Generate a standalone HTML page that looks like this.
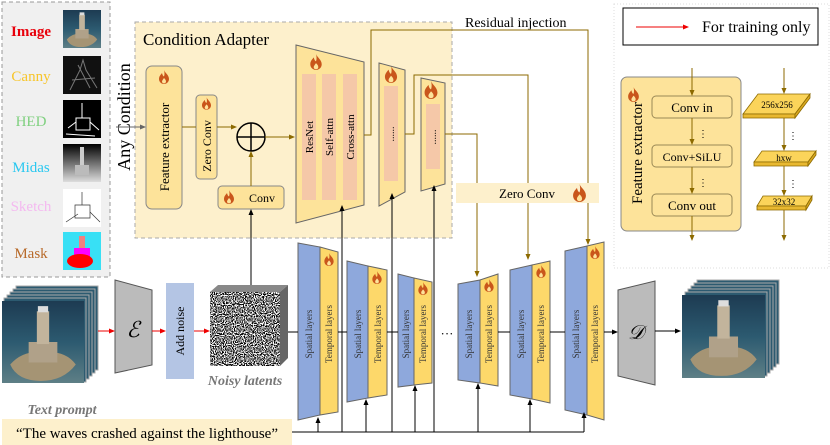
<!DOCTYPE html>
<html><head><meta charset="utf-8"><style>
html,body{margin:0;padding:0;background:#fff}
svg{display:block}
text{font-family:"Liberation Serif",serif}
</style></head><body>
<svg width="830" height="445" viewBox="0 0 830 445" xmlns="http://www.w3.org/2000/svg">
<defs>
<symbol id="fl" viewBox="0 0 10 14"><path d="M5,0 C6,3 10,5 10,9 C10,12 7.5,14 5,14 C2.5,14 0,12 0,9 C0,6 2,4.5 3,3 C3.5,5 4,6 5,6.5 C5.8,4.5 5.5,2 5,0Z" fill="#c9561b"/><path d="M5,8 C6,9 7,10 7,11.5 C7,12.8 6,13.4 5,13.4 C4,13.4 3,12.8 3,11.5 C3,10.5 4,9.5 5,8Z" fill="#fde39a"/></symbol>
<marker id="ab" markerWidth="6" markerHeight="6" refX="5" refY="3" orient="auto"><path d="M0,0.5 L6,3 L0,5.5Z" fill="#000"/></marker>
<marker id="ao" markerWidth="6" markerHeight="6" refX="5" refY="3" orient="auto"><path d="M0,0.5 L6,3 L0,5.5Z" fill="#8c6a00"/></marker>
<marker id="ag" markerWidth="6" markerHeight="6" refX="5" refY="3" orient="auto"><path d="M0,0.5 L6,3 L0,5.5Z" fill="#666"/></marker>
<marker id="ar" markerWidth="6" markerHeight="6" refX="5" refY="3" orient="auto"><path d="M0,0.5 L6,3 L0,5.5Z" fill="#e00"/></marker>
<linearGradient id="sea" x1="0" y1="0" x2="0" y2="1"><stop offset="0" stop-color="#1d3b52"/><stop offset="0.5" stop-color="#2c5a70"/><stop offset="1" stop-color="#5e7f86"/></linearGradient>
<linearGradient id="mid" x1="0" y1="0" x2="0" y2="1"><stop offset="0" stop-color="#000"/><stop offset="1" stop-color="#ddd"/></linearGradient>
<filter id="nz" x="0" y="0" width="100%" height="100%"><feTurbulence type="fractalNoise" baseFrequency="0.9" numOctaves="1" seed="3"/><feColorMatrix type="matrix" values="0 0 0 0 0  0 0 0 0 0  0 0 0 0 0  0 0 0 -9 5"/><feComposite operator="in" in2="SourceGraphic"/></filter>
<symbol id="lh" viewBox="0 0 80 80"><rect width="80" height="80" fill="url(#sea)"/><path d="M8,62 Q20,48 40,50 Q62,48 72,62 Q60,78 38,78 Q15,78 8,62Z" fill="#a59474"/><rect x="26" y="40" width="28" height="20" fill="#b0a189"/><rect x="34" y="10" width="12" height="32" fill="#c2b49c"/><rect x="35" y="5" width="10" height="6" fill="#ddd"/></symbol>
</defs>

<!-- Left condition panel -->
<rect x="2" y="2" width="108" height="275" fill="#f0f0f0" stroke="#999" stroke-dasharray="4,3"/>
<g font-size="15" text-anchor="middle">
<text x="31" y="36" fill="#e8000b" font-weight="bold">Image</text>
<text x="31" y="81" fill="#f7c52a">Canny</text>
<text x="31" y="126" fill="#7fd07f">HED</text>
<text x="31" y="172" fill="#2ac8f0">Midas</text>
<text x="31" y="211" fill="#f4b9f0">Sketch</text>
<text x="31" y="258" fill="#b86a2a">Mask</text>
</g>
<use href="#lh" x="63" y="10" width="38" height="38"/>
<rect x="63" y="56" width="38" height="38" fill="#111"/><path d="M70,90 L80,70 L83,60 L86,70 L97,88 M72,80 L95,78 M78,65 L90,88" stroke="#777" stroke-width="1" fill="none"/>
<rect x="63" y="100" width="38" height="38" fill="#000"/><path d="M82,103 L82,118 M76,118 L90,118 L90,130 L76,130 Z M68,128 L76,122 M90,122 L99,130 M66,134 L95,136" stroke="#fff" stroke-width="1" fill="none"/>
<rect x="63" y="144" width="38" height="38" fill="url(#mid)"/><rect x="80" y="147" width="4" height="20" fill="#ccc"/><rect x="75" y="165" width="14" height="10" fill="#bbb"/>
<rect x="63" y="189" width="38" height="38" fill="#fff"/><path d="M82,192 L82,205 M75,205 L90,205 L90,218 L75,218 Z M66,222 L78,214 M90,212 L100,222" stroke="#333" stroke-width="0.7" fill="none"/>
<rect x="63" y="232" width="38" height="38" fill="#38e0f5"/><rect x="79" y="236" width="6" height="14" fill="#f08080"/><rect x="74" y="248" width="16" height="9" fill="#f0f"/><ellipse cx="80" cy="261" rx="13" ry="7" fill="#f00"/>

<!-- Condition Adapter -->
<rect x="135" y="22" width="317" height="216" fill="#fdf0cc" stroke="#aaa" stroke-dasharray="4,3"/>
<text x="143" y="45" font-size="17">Condition Adapter</text>
<text transform="translate(130,117) rotate(-90)" font-size="18" text-anchor="middle">Any Condition</text>
<line x1="116" y1="127" x2="145" y2="127" stroke="#666" marker-end="url(#ag)"/>
<rect x="146" y="66" width="36" height="143" rx="6" fill="#fde39a" stroke="#888"/>
<use href="#fl" x="159" y="70" width="10" height="14"/>
<text transform="translate(169,147) rotate(-90)" font-size="13" text-anchor="middle">Feature extractor</text>
<rect x="196" y="95" width="21" height="84" rx="4" fill="#fde39a" stroke="#888"/>
<use href="#fl" x="202" y="97" width="9" height="13"/>
<text transform="translate(211,146) rotate(-90)" font-size="12" text-anchor="middle">Zero Conv</text>
<line x1="182" y1="127" x2="196" y2="127" stroke="#8c6a00"/>
<line x1="217" y1="127" x2="236" y2="127" stroke="#8c6a00" marker-end="url(#ao)"/>
<circle cx="251" cy="137" r="14" fill="none" stroke="#000" stroke-width="1.5"/>
<path d="M237,137 H265 M251,123 V151" stroke="#000" stroke-width="1.5"/>
<rect x="218" y="186" width="66" height="23" rx="4" fill="#fde39a" stroke="#888"/>
<use href="#fl" x="224" y="190" width="10" height="14"/>
<text x="262" y="202" font-size="12" text-anchor="middle">Conv</text>
<line x1="251" y1="186" x2="251" y2="152" stroke="#8c6a00" marker-end="url(#ao)"/>
<line x1="265" y1="137" x2="294" y2="137" stroke="#8c6a00" marker-end="url(#ao)"/>

<polygon points="296,45 364,62 364,205 296,223" fill="#fde39a" stroke="#666"/>
<use href="#fl" x="310" y="54" width="12" height="16"/>
<rect x="302" y="74" width="14" height="126" fill="#f5c8a8"/><rect x="322" y="74" width="14" height="126" fill="#f5c8a8"/><rect x="343" y="74" width="14" height="126" fill="#f5c8a8"/>
<g font-size="11" text-anchor="middle">
<text transform="translate(313,137) rotate(-90)">ResNet</text>
<text transform="translate(333,137) rotate(-90)">Self-attn</text>
<text transform="translate(354,137) rotate(-90)">Cross-attn</text>
</g>
<polygon points="379,63 405,70 405,192 379,206" fill="#fde39a" stroke="#666"/>
<use href="#fl" x="384" y="66" width="14" height="17"/>
<rect x="384" y="86" width="14" height="95" fill="#f5c8a8"/>
<text transform="translate(394,134) rotate(-90)" font-size="10" text-anchor="middle">......</text>
<polygon points="421,78 445,83 445,184 421,191" fill="#fde39a" stroke="#666"/>
<use href="#fl" x="424" y="81" width="14" height="18"/>
<rect x="426" y="104" width="14" height="65" fill="#f5c8a8"/>
<text transform="translate(436,137) rotate(-90)" font-size="10" text-anchor="middle">......</text>

<!-- Residual lines -->
<text x="465" y="27" font-size="14">Residual injection</text>
<g stroke="#8c6a00" fill="none">
<polyline points="364,135 371,135 371,30 588,30 588,244" marker-end="url(#ao)"/>
<polyline points="405,134 414,134 414,75 528,75 528,259" marker-end="url(#ao)"/>
<polyline points="445,134 477,134 477,276" marker-end="url(#ao)"/>
</g>
<rect x="456" y="183" width="143" height="20" fill="#fdf0cc"/>
<text x="527" y="198" font-size="13" text-anchor="middle">Zero Conv</text>
<use href="#fl" x="573" y="184" width="13" height="18"/>

<!-- Black up-lines -->
<g stroke="#000" fill="none">
<line x1="251" y1="285" x2="251" y2="210" marker-end="url(#ab)"/>
<line x1="342" y1="432" x2="342" y2="206" marker-end="url(#ab)"/>
<line x1="392" y1="432" x2="392" y2="194" marker-end="url(#ab)"/>
<line x1="434" y1="432" x2="434" y2="186" marker-end="url(#ab)"/>
</g>

<!-- U-Net blocks -->
<g stroke="#666">
<polygon points="298,243 320,247 320,415 298,420" fill="#8ea8dc"/><polygon points="320,247 338,252 338,412 320,415" fill="#fdd86a"/>
<polygon points="347,261 368,266 368,398 347,402" fill="#8ea8dc"/><polygon points="368,266 387,270 387,395 368,398" fill="#fdd86a"/>
<polygon points="398,274 414,278 414,385 398,387" fill="#8ea8dc"/><polygon points="414,278 432,282 432,383 414,385" fill="#fdd86a"/>
<polygon points="458,284 480,280 480,383 458,380" fill="#8ea8dc"/><polygon points="480,280 498,274 498,386 480,383" fill="#fdd86a"/>
<polygon points="510,270 532,265 532,399 510,395" fill="#8ea8dc"/><polygon points="532,265 550,261 550,403 532,399" fill="#fdd86a"/>
<polygon points="565,251 587,246 587,415 565,410" fill="#8ea8dc"/><polygon points="587,246 604,242 604,420 587,415" fill="#fdd86a"/>
</g>
<use href="#fl" x="324" y="253" width="10" height="13"/>
<use href="#fl" x="372" y="271" width="10" height="13"/>
<use href="#fl" x="418" y="282" width="10" height="13"/>
<use href="#fl" x="484" y="279" width="10" height="13"/>
<use href="#fl" x="536" y="265" width="10" height="13"/>
<use href="#fl" x="590" y="246" width="10" height="13"/>
<g font-size="9" text-anchor="middle" fill="#333">
<text transform="translate(312,334) rotate(-90)">Spatial layers</text><text transform="translate(332,334) rotate(-90)">Temporal layers</text>
<text transform="translate(361,334) rotate(-90)">Spatial layers</text><text transform="translate(381,334) rotate(-90)">Temporal layers</text>
<text transform="translate(409,334) rotate(-90)">Spatial layers</text><text transform="translate(426,334) rotate(-90)">Temporal layers</text>
<text transform="translate(472,334) rotate(-90)">Spatial layers</text><text transform="translate(492,334) rotate(-90)">Temporal layers</text>
<text transform="translate(524,334) rotate(-90)">Spatial layers</text><text transform="translate(544,334) rotate(-90)">Temporal layers</text>
<text transform="translate(579,334) rotate(-90)">Spatial layers</text><text transform="translate(598,334) rotate(-90)">Temporal layers</text>
</g>
<text x="447" y="338" font-size="13" text-anchor="middle">···</text>
<g stroke="#000" fill="none">
<line x1="288" y1="332" x2="298" y2="332"/><line x1="338" y1="332" x2="347" y2="332"/><line x1="387" y1="332" x2="398" y2="332"/>
<line x1="498" y1="332" x2="510" y2="332"/><line x1="550" y1="332" x2="565" y2="332"/>
<line x1="604" y1="332" x2="617" y2="332" marker-end="url(#ab)"/>
<line x1="292" y1="432" x2="584" y2="432"/>
<line x1="318" y1="432" x2="318" y2="418" marker-end="url(#ab)"/>
<line x1="366" y1="432" x2="366" y2="400" marker-end="url(#ab)"/>
<line x1="415" y1="432" x2="415" y2="386" marker-end="url(#ab)"/>
<line x1="478" y1="432" x2="478" y2="384" marker-end="url(#ab)"/>
<line x1="530" y1="432" x2="530" y2="400" marker-end="url(#ab)"/>
<line x1="584" y1="432" x2="584" y2="413" marker-end="url(#ab)"/>
</g>

<!-- Input stack -->
<g stroke="#aaa">
<rect x="16" y="286" width="82" height="84" fill="#2c5a70"/><rect x="13" y="289" width="82" height="84" fill="#2c5a70"/><rect x="10" y="292" width="82" height="84" fill="#2c5a70"/><rect x="7" y="295" width="82" height="84" fill="#2c5a70"/><rect x="4" y="298" width="82" height="84" fill="#2c5a70"/>
</g>
<use href="#lh" x="2" y="300" width="82" height="84"/>
<polygon points="115,280 152,290 152,365 115,373" fill="#bbb" stroke="#555"/>
<text x="133" y="337" font-size="22" font-style="italic" text-anchor="middle">ℰ</text>
<rect x="166" y="283" width="28" height="96" fill="#b4c5e4"/>
<text transform="translate(184,331) rotate(-90)" font-size="12" text-anchor="middle">Add noise</text>
<g stroke="#e00"><line x1="98" y1="331" x2="114" y2="331" marker-end="url(#ar)"/><line x1="152" y1="331" x2="165" y2="331" marker-end="url(#ar)"/><line x1="194" y1="331" x2="209" y2="331" marker-end="url(#ar)"/></g>
<polygon points="210,292 218,285 288,285 280,292" fill="#888"/><polygon points="280,292 288,285 288,358 280,366" fill="#666"/>
<rect x="210" y="292" width="70" height="74" fill="#fff"/>
<rect x="210" y="292" width="70" height="74" fill="#000" filter="url(#nz)"/>
<text x="245" y="385" font-size="14" font-style="italic" font-weight="bold" fill="#777" text-anchor="middle">Noisy latents</text>
<text x="62" y="414" font-size="14" font-style="italic" font-weight="bold" fill="#777" text-anchor="middle">Text prompt</text>
<rect x="2" y="419" width="290" height="26" fill="#fdf0cc"/>
<text x="147" y="438" font-size="15" text-anchor="middle">“The waves crashed against the lighthouse”</text>

<!-- Decoder & output -->
<polygon points="618,290 655,281 655,385 618,376" fill="#bbb" stroke="#555"/>
<text x="636" y="339" font-size="20" font-style="italic" text-anchor="middle">𝒟</text>
<line x1="655" y1="331" x2="680" y2="331" stroke="#000" marker-end="url(#ab)"/>
<g stroke="#aaa">
<rect x="697" y="280" width="82" height="84" fill="#2c5a70"/><rect x="694" y="283" width="82" height="84" fill="#2c5a70"/><rect x="691" y="286" width="82" height="84" fill="#2c5a70"/><rect x="688" y="289" width="82" height="84" fill="#2c5a70"/><rect x="685" y="292" width="82" height="84" fill="#2c5a70"/>
</g>
<use href="#lh" x="682" y="295" width="83" height="83"/>

<!-- Right panel -->
<rect x="614" y="4" width="215" height="264" fill="none" stroke="#ddd" stroke-dasharray="1,2"/>
<rect x="623" y="8" width="195" height="37" fill="#fff" stroke="#000"/>
<line x1="636" y1="27" x2="688" y2="27" stroke="#e00" marker-end="url(#ar)"/>
<text x="702" y="32" font-size="16">For training only</text>
<rect x="621" y="77" width="120" height="154" rx="6" fill="#fde39a" stroke="#888"/>
<use href="#fl" x="628" y="87" width="11" height="15"/>
<text transform="translate(642,153) rotate(-90)" font-size="15" text-anchor="middle">Feature extractor</text>
<g fill="#fde39a" stroke="#998855"><rect x="652" y="96" width="80" height="22" rx="4"/><rect x="652" y="145" width="80" height="22" rx="4"/><rect x="652" y="194" width="80" height="22" rx="4"/></g>
<g font-size="13" text-anchor="middle"><text x="692" y="112">Conv in</text><text x="692" y="161" font-size="12">Conv+SiLU</text><text x="692" y="210">Conv out</text></g>
<g stroke="#8c6a00" fill="none">
<line x1="692" y1="68" x2="692" y2="95" marker-end="url(#ao)"/><line x1="692" y1="118" x2="692" y2="144" marker-end="url(#ao)"/><line x1="692" y1="167" x2="692" y2="193" marker-end="url(#ao)"/><line x1="692" y1="216" x2="692" y2="240" marker-end="url(#ao)"/>
<line x1="784" y1="68" x2="784" y2="93" marker-end="url(#ao)"/><line x1="784" y1="118" x2="784" y2="150" marker-end="url(#ao)"/><line x1="784" y1="166" x2="784" y2="195" marker-end="url(#ao)"/><line x1="784" y1="210" x2="784" y2="240" marker-end="url(#ao)"/>
</g>
<g font-size="10" text-anchor="middle"><text x="703" y="137">⋮</text><text x="703" y="186">⋮</text><text x="793" y="139">⋮</text><text x="793" y="187">⋮</text></g>
<g stroke="#8c6a00" stroke-width="0.8">
<polygon points="743,114 758,94 810,94 795,114" fill="#fbd45a"/><polygon points="743,114 795,114 795,118 743,118" fill="#e8b830"/><polygon points="795,114 810,94 810,98 795,118" fill="#d8a820"/>
<polygon points="754,162 762,151 816,151 808,162" fill="#fbd45a"/><polygon points="754,162 808,162 808,166 754,166" fill="#e8b830"/><polygon points="808,162 816,151 816,155 808,166" fill="#d8a820"/>
<polygon points="757,206 763,196 812,196 806,206" fill="#fbd45a"/><polygon points="757,206 806,206 806,210 757,210" fill="#e8b830"/><polygon points="806,206 812,196 812,200 806,210" fill="#d8a820"/>
</g>
<g font-size="9" text-anchor="middle"><text x="777" y="108">256x256</text><text x="784" y="161">hxw</text><text x="784" y="205">32x32</text></g>
</svg>
</body></html>
